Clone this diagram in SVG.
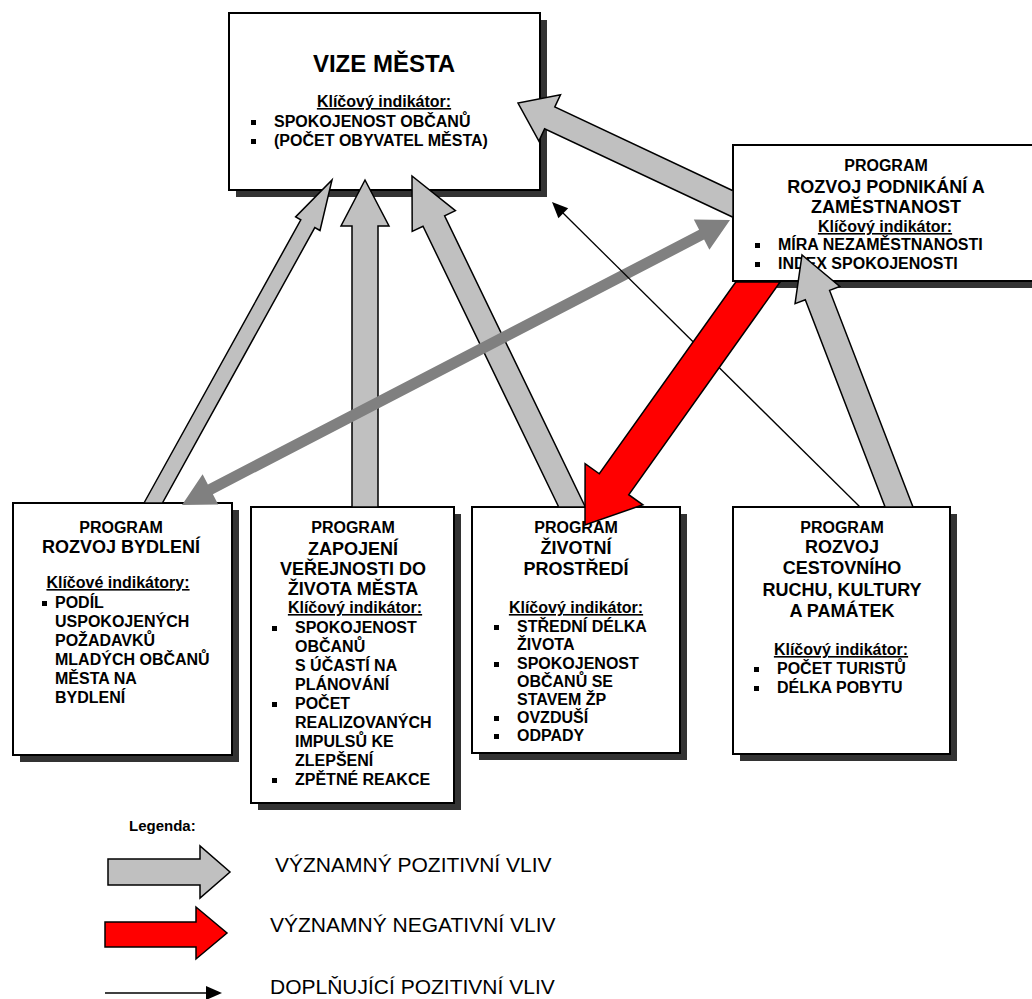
<svg xmlns="http://www.w3.org/2000/svg" width="1032" height="999" viewBox="0 0 1032 999">
<style>
.sh{fill:#333}
.box{fill:#fff;stroke:#000;stroke-width:2}
text{font-family:"Liberation Sans",Arial,sans-serif;font-weight:bold;fill:#000}
.c{text-anchor:middle}
.h1{font-size:24px}
.h2{font-size:18px}
.h3{font-size:16px}
.u{text-decoration:underline}
.lg{font-weight:normal;font-size:21px}
.lh{font-size:15px}
.pos{fill:#c0c0c0;stroke:#000;stroke-width:1.5;stroke-linejoin:miter}
.neg{fill:#f00;stroke:#000;stroke-width:1.5;stroke-linejoin:miter}
.dbl{fill:#808080}
.thin{stroke:#000;stroke-width:1.3;fill:none}
</style>
<rect width="1032" height="999" fill="#fff"/>

<g id="vize">
<rect class="sh" x="236" y="20" width="311" height="177"/>
<rect class="box" x="229" y="13" width="311" height="177"/>
<text class="h1 c" x="384" y="72">VIZE MĚSTA</text>
<text class="h3 c u" x="384" y="107">Klíčový indikátor:</text>
<rect x="251" y="120" width="5" height="5"/>
<text class="h3" x="274" y="127">SPOKOJENOST OBČANŮ</text>
<rect x="251" y="139" width="5" height="5"/>
<text class="h3" x="274" y="146">(POČET OBYVATEL MĚSTA)</text>
</g>

<g id="podnikani">
<rect class="sh" x="740" y="152" width="307" height="136"/>
<rect class="box" x="733" y="145" width="307" height="136"/>
<text class="h3 c" x="886" y="171">PROGRAM</text>
<text class="h2 c" x="886" y="193">ROZVOJ PODNIKÁNÍ A</text>
<text class="h2 c" x="886" y="213">ZAMĚSTNANOST</text>
<text class="h3 c u" x="885" y="232">Klíčový indikátor:</text>
<rect x="755" y="243" width="5" height="5"/>
<text class="h3" x="778" y="250">MÍRA NEZAMĚSTNANOSTI</text>
<rect x="755" y="262" width="5" height="5"/>
<text class="h3" x="778" y="269">INDEX SPOKOJENOSTI</text>
</g>

<g id="bydleni">
<rect class="sh" x="20" y="510" width="219" height="252"/>
<rect class="box" x="13" y="503" width="219" height="252"/>
<text class="h3 c" x="121" y="533">PROGRAM</text>
<text class="h2 c" x="121" y="553">ROZVOJ BYDLENÍ</text>
<text class="h3 c u" x="118" y="588">Klíčové indikátory:</text>
<rect x="42" y="601" width="5" height="5"/>
<text class="h3" x="55" y="608">PODÍL</text>
<text class="h3" x="55" y="627">USPOKOJENÝCH</text>
<text class="h3" x="55" y="646">POŽADAVKŮ</text>
<text class="h3" x="55" y="665">MLADÝCH OBČANŮ</text>
<text class="h3" x="55" y="684">MĚSTA NA</text>
<text class="h3" x="55" y="703">BYDLENÍ</text>
</g>

<g id="verejnost">
<rect class="sh" x="258" y="514" width="203" height="296"/>
<rect class="box" x="251" y="507" width="203" height="296"/>
<text class="h3 c" x="353" y="533">PROGRAM</text>
<text class="h2 c" x="353" y="555">ZAPOJENÍ</text>
<text class="h2 c" x="353" y="575">VEŘEJNOSTI DO</text>
<text class="h2 c" x="353" y="595">ŽIVOTA MĚSTA</text>
<text class="h3 c u" x="355" y="613">Klíčový indikátor:</text>
<rect x="272" y="626" width="5" height="5"/>
<text class="h3" x="295" y="633">SPOKOJENOST</text>
<text class="h3" x="295" y="652">OBČANŮ</text>
<text class="h3" x="295" y="671">S ÚČASTÍ NA</text>
<text class="h3" x="295" y="690">PLÁNOVÁNÍ</text>
<rect x="272" y="702" width="5" height="5"/>
<text class="h3" x="295" y="709">POČET</text>
<text class="h3" x="295" y="728">REALIZOVANÝCH</text>
<text class="h3" x="295" y="747">IMPULSŮ KE</text>
<text class="h3" x="295" y="766">ZLEPŠENÍ</text>
<rect x="272" y="778" width="5" height="5"/>
<text class="h3" x="295" y="785">ZPĚTNÉ REAKCE</text>
</g>

<g id="prostredi">
<rect class="sh" x="479" y="514" width="208" height="246"/>
<rect class="box" x="472" y="507" width="208" height="246"/>
<text class="h3 c" x="576" y="533">PROGRAM</text>
<text class="h2 c" x="576" y="554">ŽIVOTNÍ</text>
<text class="h2 c" x="576" y="575">PROSTŘEDÍ</text>
<text class="h3 c u" x="576" y="613">Klíčový indikátor:</text>
<rect x="494" y="625" width="5" height="5"/>
<text class="h3" x="517" y="632">STŘEDNÍ DÉLKA</text>
<text class="h3" x="517" y="650">ŽIVOTA</text>
<rect x="494" y="662" width="5" height="5"/>
<text class="h3" x="517" y="669">SPOKOJENOST</text>
<text class="h3" x="517" y="687">OBČANŮ SE</text>
<text class="h3" x="517" y="705">STAVEM ŽP</text>
<rect x="494" y="716" width="5" height="5"/>
<text class="h3" x="517" y="723">OVZDUŠÍ</text>
<rect x="494" y="734" width="5" height="5"/>
<text class="h3" x="517" y="741">ODPADY</text>
</g>

<g id="cestovni">
<rect class="sh" x="740" y="514" width="217" height="247"/>
<rect class="box" x="733" y="507" width="217" height="247"/>
<text class="h3 c" x="842" y="533">PROGRAM</text>
<text class="h2 c" x="842" y="553">ROZVOJ</text>
<text class="h2 c" x="842" y="574">CESTOVNÍHO</text>
<text class="h2 c" x="842" y="596">RUCHU, KULTURY</text>
<text class="h2 c" x="842" y="617">A PAMÁTEK</text>
<text class="h3 c u" x="841" y="655">Klíčový indikátor:</text>
<rect x="754" y="667" width="5" height="5"/>
<text class="h3" x="777" y="674">POČET TURISTŮ</text>
<rect x="754" y="686" width="5" height="5"/>
<text class="h3" x="777" y="693">DÉLKA POBYTU</text>
</g>

<g id="connectors">
<polygon class="pos" points="144,503 300.8,219.8 295.6,216.9 332,180 320,230.5 314.8,227.6 162.4,503"/>
<polygon class="pos" points="352,507 352,226 341,226 365,180 389,226 378,226 378,507"/>
<polygon class="pos" points="558.7,507 423,226.2 412.2,231.4 412,176 455.4,210.6 444.6,215.8 585.3,507"/>
<polygon class="pos" points="733,190.7 554.8,107 560.5,94.8 518,103 538.9,141 544.6,128.8 733,217.3"/>
<polygon class="pos" points="885.1,507 805.3,299.8 795.05,303.7 802,255 839.8,286.5 829.6,290.4 913,507"/>
<polygon class="dbl" points="182,505 218.2,504.4 212.9,494.2 704.1,239.6 709.4,249.8 730,220 693.8,219.6 699.1,229.8 207.9,484.4 202.6,474.2"/>
<line class="thin" x1="860" y1="507" x2="563" y2="213"/>
<polygon points="552,202 568.2,208.3 558.4,218.3" fill="#000"/>
<polygon class="neg" points="735.8,282 599.3,473.8 585.1,463.7 585,525 642.9,504.8 628.7,494.7 780.1,282"/>
</g>

<g id="legend">
<text class="lh" x="129" y="831">Legenda:</text>
<polygon class="pos" points="108,859 200,859 200,846 230,872 200,898 200,885 108,885"/>
<text class="lg" x="275" y="872">VÝZNAMNÝ POZITIVNÍ VLIV</text>
<polygon class="neg" points="105,922 196,922 196,907 227,933 196,959 196,947 105,947"/>
<text class="lg" x="270" y="932">VÝZNAMNÝ NEGATIVNÍ VLIV</text>
<line class="thin" x1="105" y1="993" x2="208" y2="993"/>
<polygon points="222,993 206,986 206,1000" fill="#000"/>
<text class="lg" x="270" y="994">DOPLŇUJÍCÍ POZITIVNÍ VLIV</text>
</g>
</svg>
